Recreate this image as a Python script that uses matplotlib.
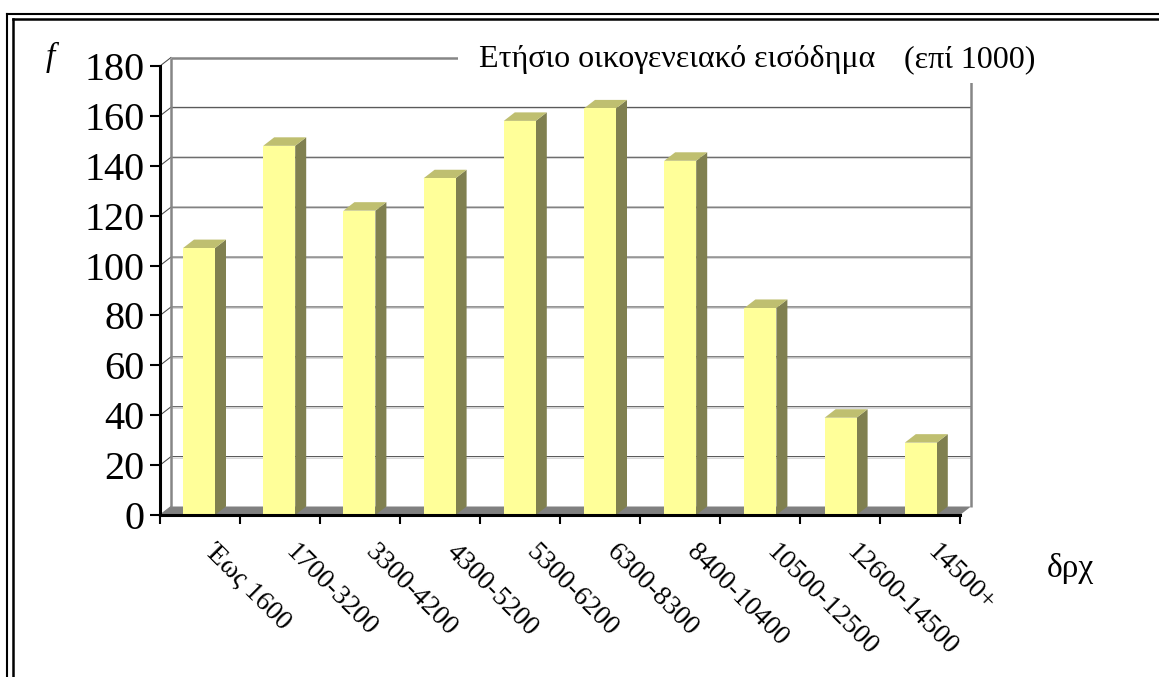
import matplotlib
matplotlib.use("Agg")
import matplotlib.pyplot as plt
from matplotlib.lines import Line2D
from matplotlib.patches import Polygon, Rectangle
from matplotlib.transforms import ScaledTranslation

W, H = 1159, 677
categories = ["Έως 1600", "1700-3200", "3300-4200", "4300-5200", "5300-6200",
              "6300-8300", "8400-10400", "10500-12500", "12600-14500", "14500+"]
values = [107, 148, 122, 135, 158, 163, 142, 83, 39, 29]
y_ticks = list(range(0, 181, 20))

plt.rcParams['font.family'] = ['Liberation Serif', 'DejaVu Serif']
fig = plt.figure(figsize=(W / 100, H / 100), dpi=100)
ax = fig.add_axes([160 / W, (H - 515) / H, 800 / W, 449 / H])
ax.set_xlim(0, 10)
ax.set_ylim(0, 180)
for s in ax.spines.values():
    s.set_visible(False)
for s in ('left', 'bottom'):
    ax.spines[s].set_visible(True)
    ax.spines[s].set_linewidth(2.2)
    ax.spines[s].set_zorder(8)

# 3-D depth in data units (11 px right, 8.5 px up)
DX = 11 / 80
DY = 8.5 * 180 / 449

# floor
ax.add_patch(Polygon([(0, 0), (10, 0), (10 + DX, DY), (DX, DY)], closed=True,
                     fc='#808080', ec='none', zorder=1, clip_on=False))
# gridlines on back wall with diagonal connectors
shadow = ax.transData + ScaledTranslation(0, -1 / 100, fig.dpi_scale_trans)
for v in y_ticks[1:-1]:
    ax.plot([DX, 10 + DX], [v + DY, v + DY], color='#d8d8d8', lw=0.7, zorder=1,
            clip_on=False, transform=shadow)
    ax.plot([0, DX, 10 + DX], [v, v + DY, v + DY], color='#4a4a4a', lw=0.75, zorder=2, clip_on=False)
for v in (0, 180):
    ax.plot([0, DX], [v, v + DY], color='#4a4a4a' if v else '#808080', lw=0.75, zorder=2, clip_on=False)
# walls
wall = dict(color='#868686', lw=1.8, zorder=2, clip_on=False, solid_capstyle='butt')
ax.plot([DX, DX], [DY, 180 + DY], **wall)
ax.plot([10 + DX, 10 + DX], [DY, 180 + DY], **wall)
ax.plot([DX, 10 + DX], [180 + DY, 180 + DY], **wall)

# white box behind the title
fig.add_artist(Rectangle((458 / W, (H - 83) / H), 600 / W, 50 / H, transform=fig.transFigure,
                         fc='white', ec='none', zorder=3))

# bars
xc = [0.4875 + i * 1.0025 for i in range(len(values))]
bw = 0.4
ax.bar(xc, values, width=bw, color='#FFFF99', ec='none', zorder=5)
for x, v in zip(xc, values):
    l, r = x - bw / 2, x + bw / 2
    ax.add_patch(Polygon([(r, 0), (r + DX, DY), (r + DX, v + DY), (r, v)], closed=True,
                         fc='#808050', ec='none', zorder=4, clip_on=False))
    ax.add_patch(Polygon([(l, v), (r, v), (r + DX, v + DY), (l + DX, v + DY)], closed=True,
                         fc='#BFBF70', ec='none', zorder=4, clip_on=False))

# ticks
ax.set_yticks(y_ticks)
ax.tick_params(axis='y', length=7.2, width=1.5, labelsize=29, pad=4)
ax.set_xticks(range(11))
ax.set_xticklabels([])
ax.tick_params(axis='x', which='major', length=6.5, width=1.5)
ax.set_xticks(xc, categories, minor=True)
ax.tick_params(axis='x', which='minor', length=0, pad=21, labelsize=19.8)
label_shift = ScaledTranslation(10 / 100, -4 / 100, fig.dpi_scale_trans)
for t in ax.get_xticklabels(minor=True):
    t.set_rotation(-45)
    t.set_rotation_mode('anchor')
    t.set_ha('left')
    t.set_va('center')
    t.set_transform(t.get_transform() + label_shift)


def px(x, y, s, **kw):
    fig.text(x / W, (H - y) / H, s, zorder=6, **kw)


px(479, 67, "Ετήσιο οικογενειακό εισόδημα", fontsize=23)
px(904, 67, "(επί 1000)", fontsize=23)
px(46, 66, "f", fontsize=24, style='italic')
px(1047, 577, "δρχ", fontsize=24)

# double frame, top and left
frame = [((6.5, 6.5), (677, 13.5), 1.5), ((6.5, 1159), (13.5, 13.5), 1.5),
         ((13, 13), (677, 19), 1.8), ((13, 1159), (19, 19), 1.8)]
for xs, ys, lw in frame:
    fig.add_artist(Line2D([x / W for x in xs], [(H - y) / H for y in ys], color='black', lw=lw))

fig.savefig("out.png", dpi=100)
